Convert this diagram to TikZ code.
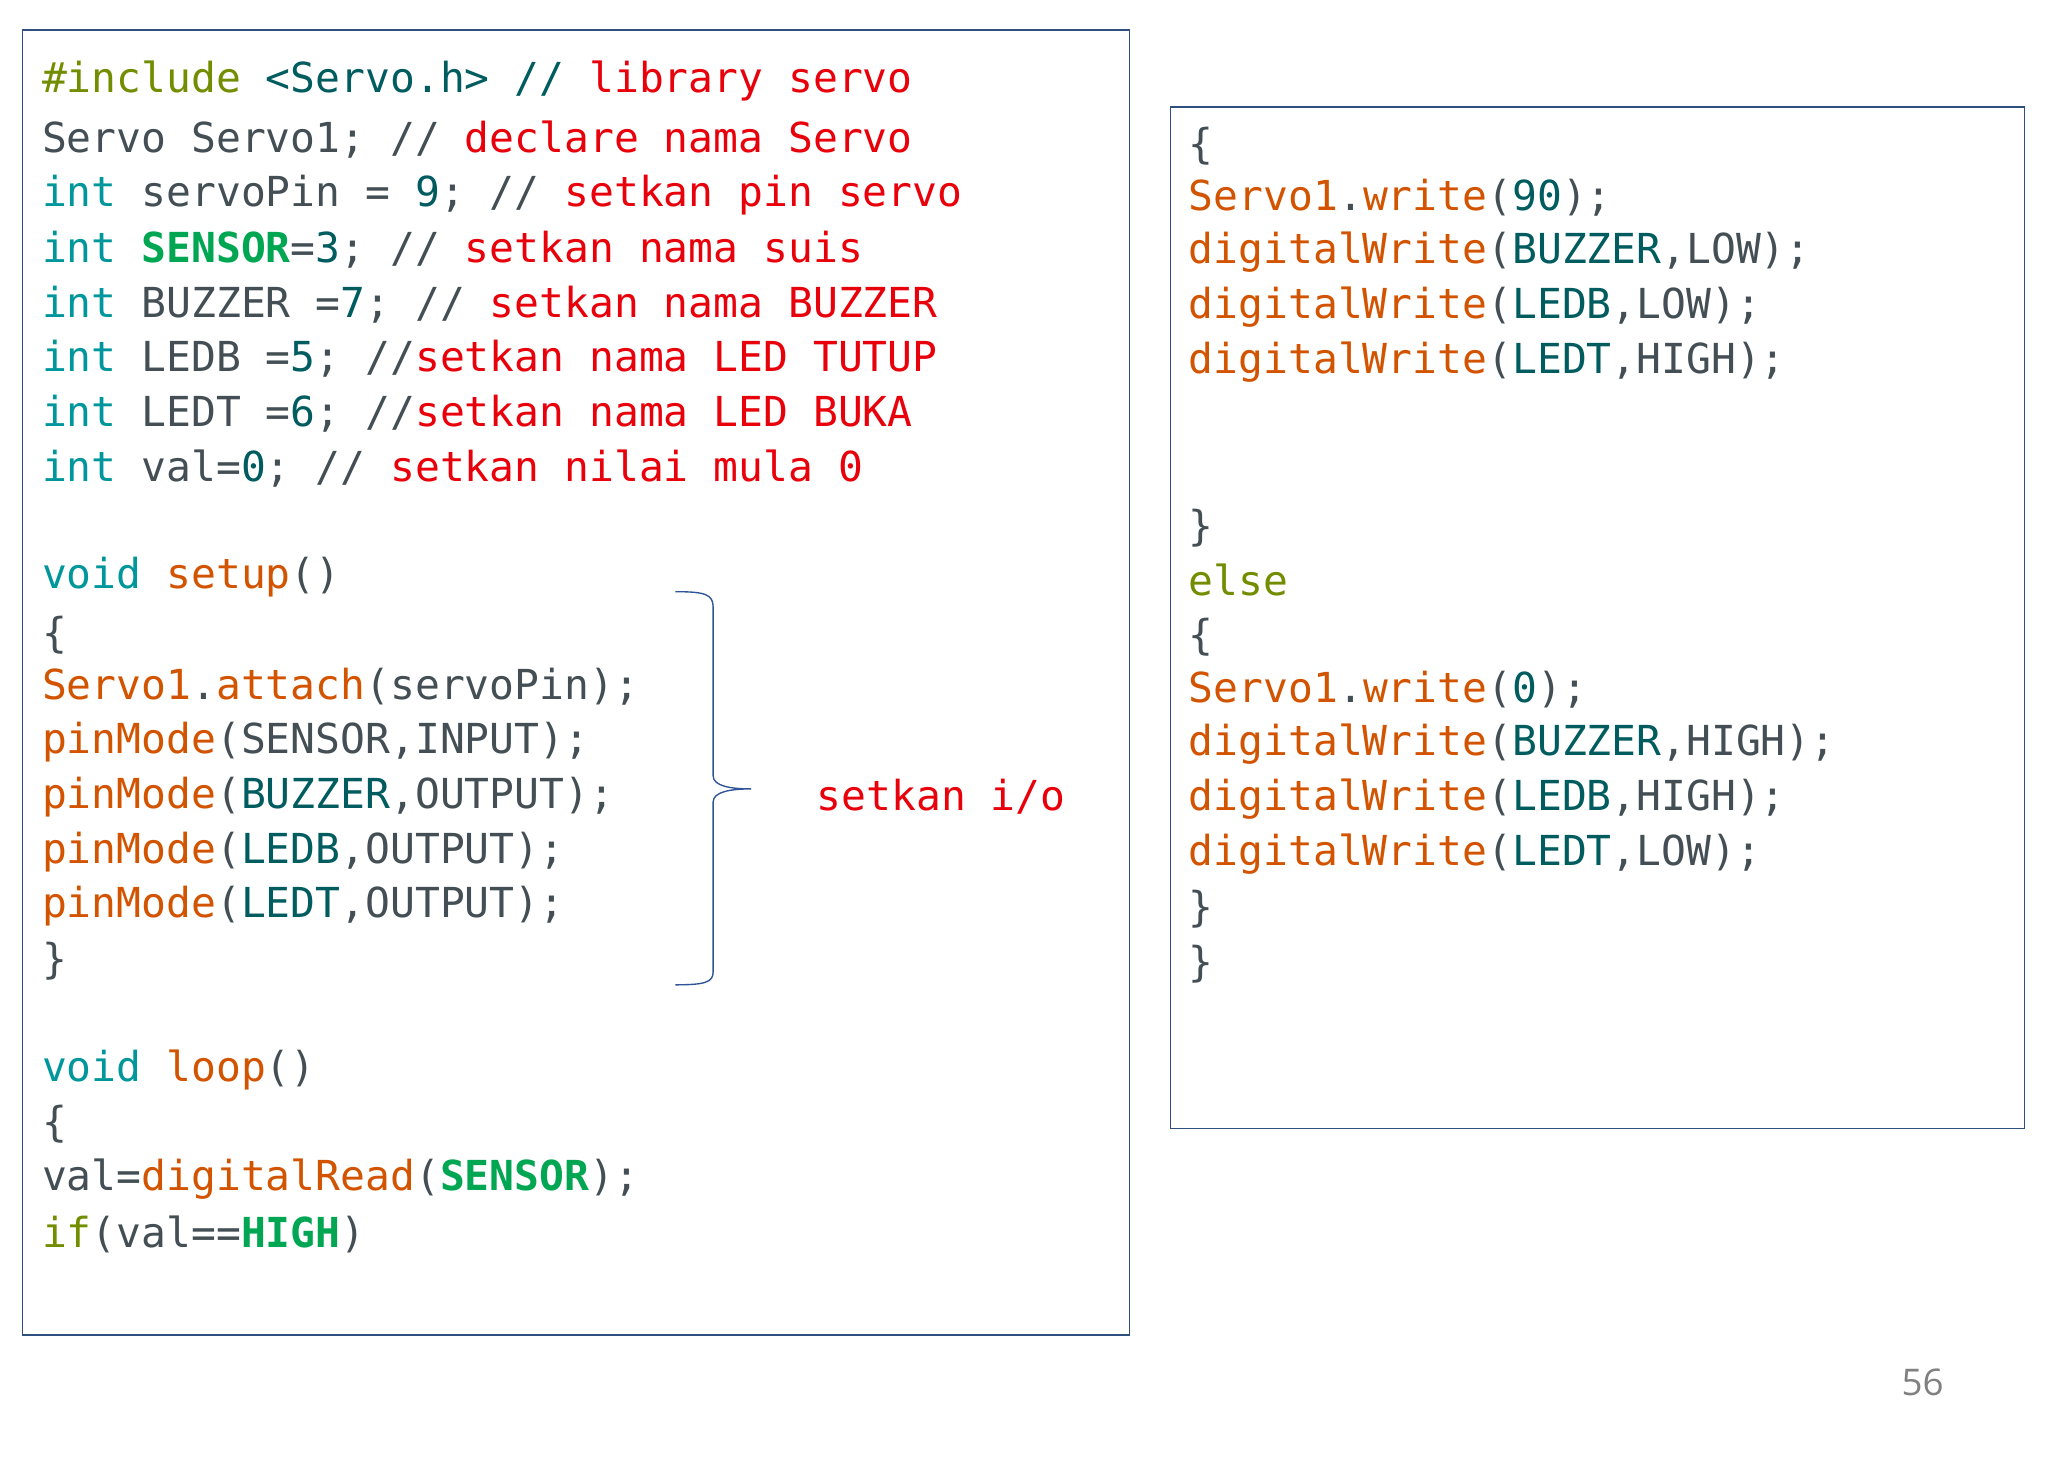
\documentclass[tikz,border=0pt]{standalone}
\usepackage{fontspec}
\setmainfont{DejaVu Sans Mono}
\newfontfamily\pagefont{Open Sans}
\definecolor{dg}{HTML}{434F54}
\definecolor{kw}{HTML}{00979C}
\definecolor{fn}{HTML}{D35400}
\definecolor{cm}{HTML}{E8000B}
\definecolor{gr}{HTML}{00A651}
\definecolor{ct}{HTML}{005C5F}
\definecolor{ol}{HTML}{728E00}
\definecolor{bx}{HTML}{2F4F7F}
\definecolor{br}{HTML}{2F5597}
\newcommand{\K}[1]{\textcolor{kw}{#1}}
\newcommand{\F}[1]{\textcolor{fn}{#1}}
\newcommand{\C}[1]{\textcolor{cm}{#1}}
\newcommand{\G}[1]{\textcolor{gr}{\bfseries #1}}
\newcommand{\T}[1]{\textcolor{ct}{#1}}
\newcommand{\OL}[1]{\textcolor{ol}{#1}}
\begin{document}
\begin{tikzpicture}[x=0.03cm,y=-0.03cm,
  code/.style={anchor=west,inner sep=0pt,text=dg,font=\fontsize{27}{30}\selectfont},
  panel/.style={draw=bx,line width=0.9pt}]
\useasboundingbox[fill=white] (0,0) rectangle (1568,1115);
\draw[panel] (17,23) rectangle (865,1022);
\draw[panel] (896,82) rectangle (1550,864);
\node[code] (l1) at (32,62) {\OL{\#include} \T{<Servo.h>} \T{//} \C{library servo}};
\node[code] (l2) at (32,107) {Servo Servo1; // \C{declare nama Servo}};
\node[code] (l3) at (32,149) {\K{int} servoPin = \T{9}; // \C{setkan pin servo}};
\node[code] (l4) at (32,191) {\K{int} \G{SENSOR}=\T{3}; // \C{setkan nama suis}};
\node[code] (l5) at (32,233) {\K{int} BUZZER =\T{7}; // \C{setkan nama BUZZER}};
\node[code] (l6) at (32,275) {\K{int} LEDB =\T{5}; //\C{setkan nama LED TUTUP}};
\node[code] (l7) at (32,317) {\K{int} LEDT =\T{6}; //\C{setkan nama LED BUKA}};
\node[code] (l8) at (32,359) {\K{int} val=\T{0}; // \C{setkan nilai mula 0}};
\node[code] (l9) at (32,442) {\K{void} \F{setup}()};
\node[code] (l10) at (32,486) {\{};
\node[code] (l11) at (32,526) {\F{Servo1}.\F{attach}(servoPin);};
\node[code] (l12) at (32,568) {\F{pinMode}(SENSOR,INPUT);};
\node[code] (l13) at (32,610) {\F{pinMode}(\T{BUZZER},OUTPUT);};
\node[code] (l14) at (32,652) {\F{pinMode}(\T{LEDB},OUTPUT);};
\node[code] (l15) at (32,694) {\F{pinMode}(\T{LEDT},OUTPUT);};
\node[code] (l16) at (32,736) {\}};
\node[code] (l17) at (32,819) {\K{void} \F{loop}()};
\node[code] (l18) at (32,861) {\{};
\node[code] (l19) at (32,903) {val=\F{digitalRead}(\G{SENSOR});};
\node[code] (l20) at (32,945) {\OL{if}(val==\G{HIGH})};
\draw[br,line width=0.9pt] (517,453) .. controls (540,453) and (546,455) .. (546,465) -- (546,594) .. controls (546,602) and (560,604) .. (575,604) .. controls (560,604) and (546,606) .. (546,614) -- (546,744) .. controls (546,752) and (540,754) .. (517,754);
\node[code,text=cm] (io) at (625,610) {setkan i/o};
\node[code] (r1) at (910,112) {\{};
\node[code] (r2) at (910,151) {\F{Servo1}.\F{write}(\T{90});};
\node[code] (r3) at (910,193) {\F{digitalWrite}(\T{BUZZER},LOW);};
\node[code] (r4) at (910,235) {\F{digitalWrite}(\T{LEDB},LOW);};
\node[code] (r5) at (910,277) {\F{digitalWrite}(\T{LEDT},HIGH);};
\node[code] (r6) at (910,404) {\}};
\node[code] (r7) at (910,444) {\OL{else}};
\node[code] (r8) at (910,488) {\{};
\node[code] (r9) at (910,528) {\F{Servo1}.\F{write}(\T{0});};
\node[code] (r10) at (910,570) {\F{digitalWrite}(\T{BUZZER},HIGH);};
\node[code] (r11) at (910,612) {\F{digitalWrite}(\T{LEDB},HIGH);};
\node[code] (r12) at (910,654) {\F{digitalWrite}(\T{LEDT},LOW);};
\node[code] (r13) at (910,696) {\}};
\node[code] (r14) at (910,738) {\}};
\node[inner sep=0pt,text=gray,font=\pagefont\fontsize{24}{28}\selectfont] (pg) at (1472,1058) {56};
\end{tikzpicture}
\end{document}
